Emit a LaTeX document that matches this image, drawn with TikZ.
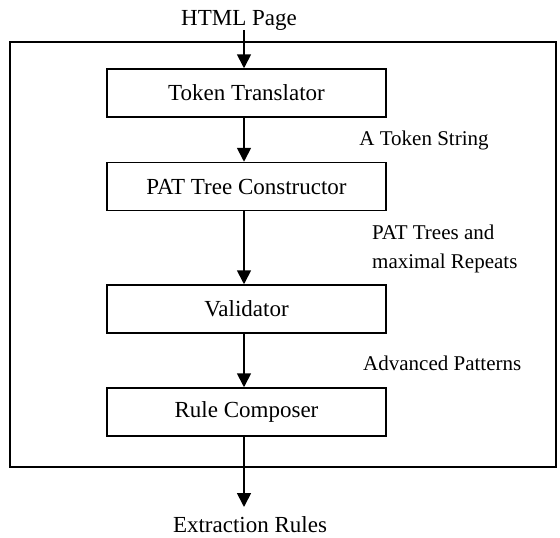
\documentclass[tikz,border=0pt]{standalone}
\usepackage{fontspec}
\setmainfont{Liberation Serif}
\usetikzlibrary{arrows.meta}
\begin{document}
\begin{tikzpicture}[x=1pt,y=-1pt,
  stage/.style={draw,line width=1.5pt,minimum width=279pt,minimum height=48pt,inner sep=0pt,font=\fontsize{23}{26}\selectfont},
  io/.style={inner sep=0pt,font=\fontsize{23}{26}\selectfont},
  lbl/.style={inner sep=0pt,font=\fontsize{21}{29}\selectfont},
  flow/.style={line width=1.7pt,-{Triangle[length=14pt,width=14pt]}}]
\useasboundingbox (0,0) rectangle (560,538);
\draw[line width=1.5pt] (10,42) rectangle (556,467);
\node[io] (html) at (239,20) {HTML Page};
\node[stage] (tt) at (246.5,93) {Token Translator};
\node[stage] (pat) at (246.5,186.5) {PAT Tree Constructor};
\node[stage] (val) at (246.5,309) {Validator};
\node[stage] (rc) at (246.5,412) {Rule Composer};
\node[io] (out) at (250,524.5) {Extraction Rules};
\coordinate (outtip) at (244,507);
\node[lbl] (l1) at (424,140) {A Token String};
\node[lbl,anchor=west,align=left] (l2) at (372,248.5) {PAT Trees and\\maximal Repeats};
\node[lbl,anchor=west] (l3) at (363,363) {Advanced Patterns};
\draw[flow] ([xshift=-2.5pt]tt.north |- html.south) -- ([xshift=-2.5pt]tt.north);
\draw[flow] ([xshift=-2.5pt]tt.south) -- ([xshift=-2.5pt]pat.north);
\draw[flow] ([xshift=-2.5pt]pat.south) -- ([xshift=-2.5pt]val.north);
\draw[flow] ([xshift=-2.5pt]val.south) -- ([xshift=-2.5pt]rc.north);
\draw[flow] ([xshift=-2.5pt]rc.south) -- (outtip);
\end{tikzpicture}
\end{document}
